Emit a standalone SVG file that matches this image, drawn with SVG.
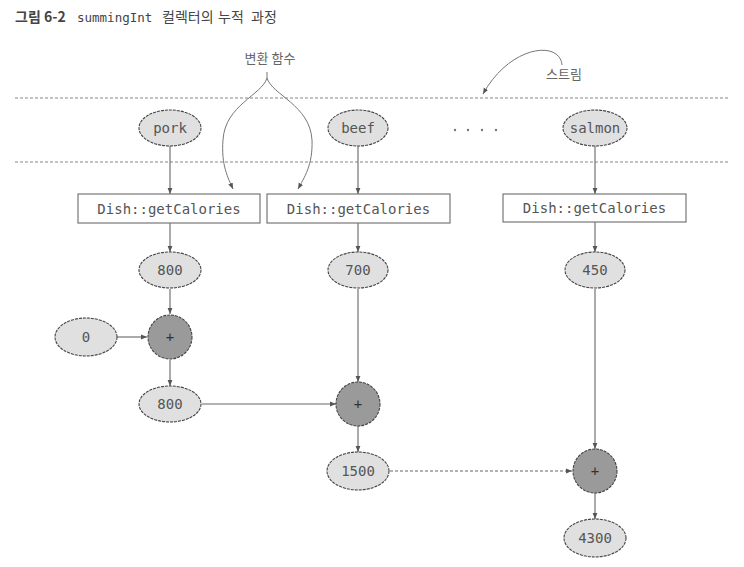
<svg xmlns="http://www.w3.org/2000/svg" width="744" height="567" viewBox="0 0 744 567">
<style>
.title{font-family:"Noto Sans CJK KR","Liberation Sans",sans-serif;font-size:14px;fill:#444}
.tb{font-weight:bold}
.tmono{font-family:"DejaVu Sans Mono","Liberation Mono",monospace;font-size:12.5px}
.lbl{font-family:"Noto Sans CJK KR","Liberation Sans",sans-serif;font-size:13px;fill:#666}
.mono{font-family:"DejaVu Sans Mono","Liberation Mono",monospace;font-size:14px;fill:#555;text-anchor:middle;dominant-baseline:central}
.ell{fill:#e0e0e0;stroke:#444;stroke-width:1.1;stroke-dasharray:3 1}
.plus{fill:#9a9a9a;stroke:#444;stroke-width:1.1;stroke-dasharray:3 1}
.box{fill:#fff;stroke:#777;stroke-width:1.2}
.edge{stroke:#666;stroke-width:1.1;fill:none;marker-end:url(#arr)}
.dash{stroke-dasharray:3 2}
.sep{stroke:#888;stroke-width:1.1;stroke-dasharray:3 2}
.curve{stroke:#777;stroke-width:1;fill:none;marker-end:url(#arr)}
</style>
<defs>
<marker id="arr" viewBox="0 0 10 10" refX="10" refY="5" markerWidth="6" markerHeight="6" markerUnits="userSpaceOnUse" orient="auto">
<path d="M0,1 L10,5 L0,9 z" fill="#555"/>
</marker>
</defs>
<rect width="744" height="567" fill="#fff"/>
<text class="title" y="22"><tspan class="tb" x="15">그림 6-2</tspan><tspan class="tmono" x="77">summingInt</tspan><tspan x="162">컬렉터의</tspan><tspan x="218">누적</tspan><tspan x="251">과정</tspan></text>

<line class="sep" x1="15" y1="98" x2="730" y2="98"/>
<line class="sep" x1="15" y1="162" x2="730" y2="162"/>

<g id="annotations">
<text class="lbl" x="270" y="63" text-anchor="middle">변환 함수</text>
<text class="lbl" x="564" y="79" text-anchor="middle">스트림</text>
<g fill="#777">
<circle cx="455" cy="130" r="1.2"/><circle cx="468" cy="130" r="1.2"/><circle cx="482" cy="130" r="1.2"/><circle cx="496" cy="130" r="1.2"/>
</g>
</g>

<g id="connectors">
<path class="curve" d="M267,72 L267,78 C262,95 225,105 223,140 C221,165 228,178 233,189"/>
<path class="curve" d="M267,78 C272,95 310,105 312,140 C313,165 304,178 298,189"/>
<path class="curve" d="M562,65 C560,40 510,45 483,94"/>
<line class="edge" x1="170" y1="146" x2="170" y2="194"/>
<line class="edge" x1="170" y1="223" x2="170" y2="252"/>
<line class="edge" x1="170" y1="289" x2="170" y2="314"/>
<line class="edge" x1="117" y1="337" x2="147" y2="337"/>
<line class="edge" x1="170" y1="360" x2="170" y2="386"/>
<line class="edge" x1="202" y1="404" x2="336" y2="404"/>
<line class="edge" x1="358" y1="146" x2="358" y2="194"/>
<line class="edge" x1="358" y1="223" x2="358" y2="252"/>
<line class="edge" x1="358" y1="289" x2="358" y2="382"/>
<line class="edge" x1="358" y1="426" x2="358" y2="452"/>
<line class="edge dash" x1="390" y1="471" x2="572" y2="471"/>
<line class="edge" x1="595" y1="146" x2="595" y2="194"/>
<line class="edge" x1="595" y1="222" x2="595" y2="252"/>
<line class="edge" x1="595" y1="289" x2="595" y2="449"/>
<line class="edge" x1="595" y1="493" x2="595" y2="519"/>
</g>

<g id="pork"><ellipse class="ell" cx="170" cy="128" rx="31" ry="18"/><text class="mono" x="170" y="128">pork</text></g>
<g id="beef"><ellipse class="ell" cx="358" cy="128" rx="30" ry="18"/><text class="mono" x="358" y="128">beef</text></g>
<g id="salmon"><ellipse class="ell" cx="595" cy="128" rx="32" ry="18"/><text class="mono" x="595" y="128">salmon</text></g>

<g id="box1"><rect class="box" x="78" y="194" width="182" height="29"/><text class="mono" x="169" y="208.5">Dish::getCalories</text></g>
<g id="box2"><rect class="box" x="267" y="194" width="183" height="29"/><text class="mono" x="358.5" y="208.5">Dish::getCalories</text></g>
<g id="box3"><rect class="box" x="503" y="194" width="183" height="28"/><text class="mono" x="594.5" y="208">Dish::getCalories</text></g>

<g id="v800a"><ellipse class="ell" cx="170" cy="270" rx="31" ry="18"/><text class="mono" x="170" y="270">800</text></g>
<g id="v700"><ellipse class="ell" cx="358" cy="270" rx="30" ry="18"/><text class="mono" x="358" y="270">700</text></g>
<g id="v450"><ellipse class="ell" cx="595" cy="270" rx="30" ry="18"/><text class="mono" x="595" y="270">450</text></g>

<g id="v0"><ellipse class="ell" cx="86" cy="337" rx="31" ry="19"/><text class="mono" x="86" y="337">0</text></g>
<g id="plus1"><circle class="plus" cx="170" cy="337" r="22"/><text class="mono" x="170" y="337" style="fill:#333">+</text></g>

<g id="v800b"><ellipse class="ell" cx="170" cy="404" rx="31" ry="18"/><text class="mono" x="170" y="404">800</text></g>
<g id="plus2"><circle class="plus" cx="358" cy="404" r="22"/><text class="mono" x="358" y="404" style="fill:#333">+</text></g>

<g id="v1500"><ellipse class="ell" cx="358" cy="471" rx="31" ry="19"/><text class="mono" x="358" y="471">1500</text></g>
<g id="plus3"><circle class="plus" cx="595" cy="471" r="22"/><text class="mono" x="595" y="471" style="fill:#333">+</text></g>

<g id="v4300"><ellipse class="ell" cx="595" cy="538" rx="31" ry="19"/><text class="mono" x="595" y="538">4300</text></g>
</svg>
